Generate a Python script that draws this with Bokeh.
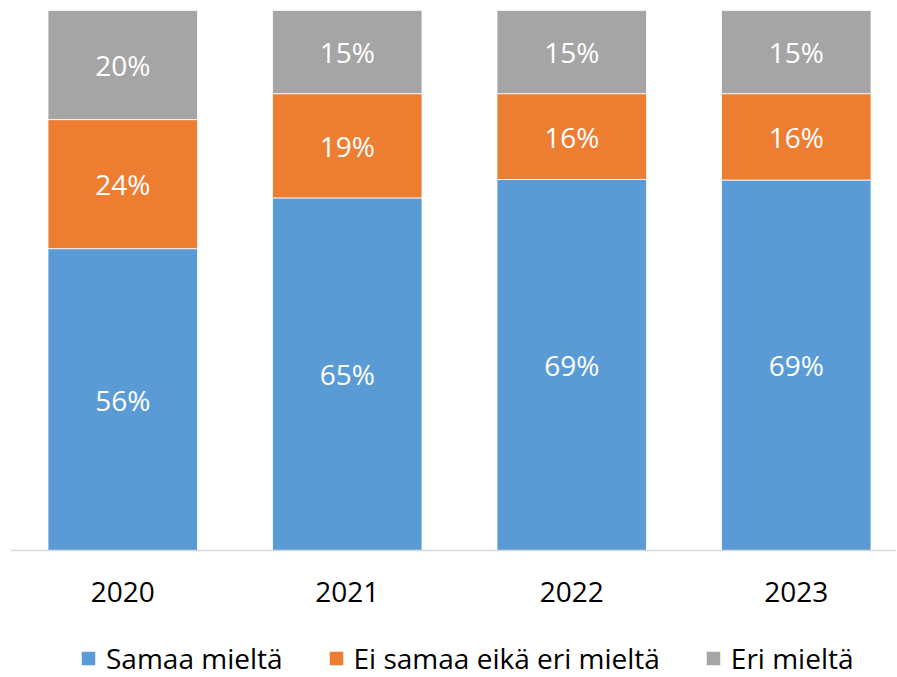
import numpy as np
from bokeh.plotting import figure
from bokeh.models import (ColumnDataSource, Range1d, Legend, LegendItem,
                          LabelSet, Span)
from bokeh.core.properties import value
from bokeh.embed import file_html
from bokeh.resources import INLINE

# ---- data ----
years = ["2020", "2021", "2022", "2023"]
series = ["Samaa mieltä", "Ei samaa eikä eri mieltä", "Eri mieltä"]
samaa = [55.9, 65.3, 68.7, 68.6]
ei_samaa = [23.9, 19.3, 15.9, 16.0]
eri = [20.2, 15.4, 15.4, 15.4]
colors = ["#5B9BD5", "#ED7D31", "#A5A5A5"]

keys = ["samaa", "ei_samaa", "eri"]
xs = list(range(len(years)))
src = ColumnDataSource(dict(x=xs, samaa=samaa, ei_samaa=ei_samaa, eri=eri))

# frame covers the whole lower area too, so the category labels and the
# legend can sit inside it below the zero line
p = figure(width=896, height=677,
           x_range=Range1d(-0.5, 3.4465), y_range=Range1d(-23.52, 100),
           output_backend="svg", toolbar_location=None,
           min_border_left=10, min_border_right=0, min_border_top=10,
           min_border_bottom=0)

rs = p.vbar_stack(keys, x="x", width=0.666, color=colors, source=src,
                  line_color="white", line_width=0.8)

# data labels
vals = [samaa, ei_samaa, eri]
bottom = np.zeros(len(years))
for v in vals:
    v = np.array(v)
    mid = bottom + v / 2
    lsrc = ColumnDataSource(dict(x=xs, y=mid, t=[f"{round(a):d}%" for a in v]))
    p.add_layout(LabelSet(x="x", y="y", text="t", source=lsrc,
                          text_align="center", text_baseline="middle",
                          text_color="white", text_font=value("Open Sans"),
                          text_font_size="28px"))
    bottom = bottom + v

p.axis.visible = False
p.grid.visible = False
p.outline_line_color = None

# category axis line and labels
p.add_layout(Span(location=0, dimension="width", line_color="#D9D9D9",
                  line_width=1.5))
ysrc = ColumnDataSource(dict(x=xs, y=[0] * len(years), t=years))
p.add_layout(LabelSet(x="x", y="y", text="t", source=ysrc, y_offset=-42,
                      text_align="center", text_baseline="middle",
                      text_color="#000000", text_font=value("Open Sans"),
                      text_font_size="28px"))

legend = Legend(items=[LegendItem(label=s, renderers=[r]) for s, r in zip(series, rs)],
                orientation="horizontal", location=(69, 0),
                label_text_font="Open Sans", label_text_font_size="28px",
                label_text_color="#000000",
                glyph_width=18, glyph_height=18, label_standoff=9,
                spacing=44, padding=0, margin=0,
                border_line_color=None, background_fill_alpha=0)
p.add_layout(legend, "center")

open("out.html", "w").write(file_html(p, INLINE))
